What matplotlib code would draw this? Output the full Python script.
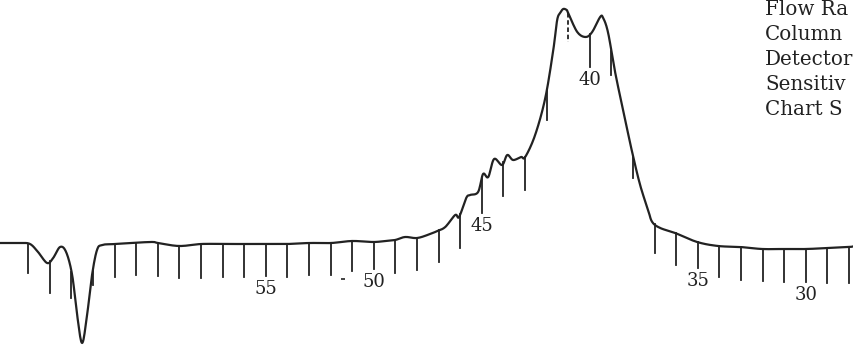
import numpy as np
import matplotlib
matplotlib.use("Agg")
import matplotlib.pyplot as plt

# detector trace, fraction number vs. response (baseline = 0)
trace_fraction = [67.30, 66.37, 65.91, 65.54, 65.12, 64.84, 64.52, 64.24, 63.96, 63.73,
                  63.50, 63.27, 63.04, 62.81, 62.57, 61.97, 60.35, 59.98, 59.01, 57.99,
                  56.97, 56.00, 54.98, 54.01, 52.99, 51.97, 51.00, 50.03, 49.47, 49.01,
                  48.55, 47.99, 47.39, 47.06, 46.69, 46.23, 46.05, 45.72, 45.54, 45.17,
                  44.94, 44.70, 44.43, 44.06, 43.82, 43.55, 43.18, 42.99, 42.53, 42.06,
                  41.69, 41.51, 41.37, 41.23, 41.07, 41.00, 40.58, 40.19, 39.89, 39.52,
                  39.38, 39.15, 38.82, 38.36, 38.04, 37.67, 37.30, 37.11, 36.74, 36.05,
                  35.03, 34.06, 33.04, 32.02, 31.05, 29.98, 29.01, 27.99, 27.76]
trace_response = [1, 1, 0, -8, -19, -14, -3, -8, -31, -71,
                  -99, -71, -31, -6, -1, 0, 2, 1, -2, 0,
                  0, 0, 0, 0, 1, 1, 3, 2, 3, 4,
                  7, 6, 10, 13, 17, 29, 27, 46, 49, 52,
                  70, 67, 85, 79, 89, 84, 87, 87, 109, 146,
                  194, 224, 231, 235, 234, 231, 212, 207, 212, 227,
                  226, 211, 171, 124, 92, 59, 34, 22, 16, 11,
                  2, -2, -3, -5, -5, -5, -4, -3, -2]

# fraction marks hung below the trace
mark_fraction = list(range(66, 27, -1))
mark_bottom = [-29, -49, -54, -41, -33, -31, -32, -34, -34, -33,
               -33, -32, -33, -31, -31, -27, -25, -29, -26, -18,
               -4, 31, 48, 54, 124, 202, 177, 169, 66, -9,
               -21, -24, -33, -36, -37, -38, -38, -39, -39]
labelled = [55, 50, 45, 40, 35, 30]

conditions = ["Flow Ra", "Column", "Detector", "Sensitiv", "Chart S"]

ink = "#222222"


def catmull_rom(x, y, n=10):
    # smooth pen line through the read-off points
    p = np.column_stack([x, y]).astype(float)
    p = np.vstack([p[0], p, p[-1]])
    out = []
    t = np.linspace(0, 1, n, endpoint=False)[:, None]
    for i in range(1, len(p) - 2):
        p0, p1, p2, p3 = p[i - 1], p[i], p[i + 1], p[i + 2]
        seg = 0.5 * ((2 * p1) + (-p0 + p2) * t
                     + (2 * p0 - 5 * p1 + 4 * p2 - p3) * t ** 2
                     + (-p0 + 3 * p1 - 3 * p2 + p3) * t ** 3)
        out.append(seg)
    out.append(p[-2][None, :])
    out = np.vstack(out)
    return out[:, 0], out[:, 1]


fig = plt.figure(figsize=(8.54, 3.46), dpi=100)
ax = fig.add_axes([0, 0, 1, 1])
ax.set_xlim(67.30, 27.77)
ax.set_ylim(-102, 244)
ax.axis("off")

sx, sy = catmull_rom(trace_fraction, trace_response)
ax.plot(sx, sy, color=ink, lw=1.6, solid_joinstyle="round", solid_capstyle="round")

xs = np.array(trace_fraction[::-1])
ys = np.array(trace_response[::-1])
for f, bottom in zip(mark_fraction, mark_bottom):
    top = np.interp(f, xs, ys)
    style = (0, (2.5, 1.5)) if f == 41 else "-"
    ax.plot([f, f], [top, bottom], color=ink, lw=1.3, ls=style)
    if f in labelled:
        ax.text(f, bottom - 13, str(f), ha="center", va="center",
                fontsize=13, family="DejaVu Serif", color=ink)

# stray pen mark left of 50
ax.plot([51.42], [-35], marker="_", ms=3, color=ink, mew=1.2)

for i, line in enumerate(conditions):
    fig.text(765 / 854, 1 - (15 + 25 * i) / 346, line, ha="left", va="baseline",
             fontsize=14.3, family="DejaVu Serif", color=ink)

fig.savefig("out.png", dpi=100)
